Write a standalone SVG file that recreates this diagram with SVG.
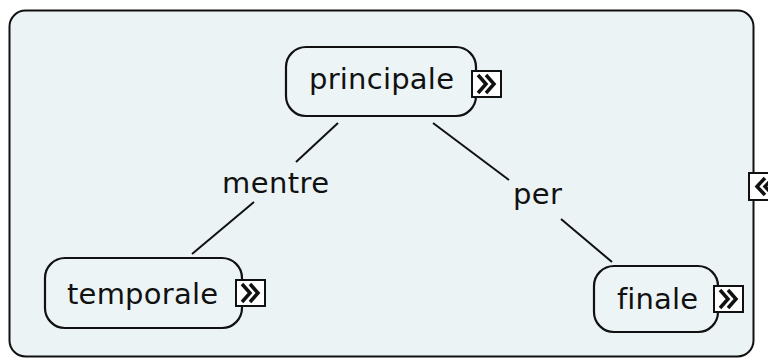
<svg xmlns="http://www.w3.org/2000/svg" width="768" height="360" viewBox="0 0 768 360">
<style>
.node{fill:#edf4f6;stroke:#111;stroke-width:2.2}
.lbl{font-family:"DejaVu Sans",Verdana,sans-serif;font-size:29px;fill:#111;font-variant-ligatures:none}
.conn{stroke:#111;stroke-width:2;fill:none}
.ico{fill:#fff;stroke:#111;stroke-width:2}
.chev{fill:none;stroke:#111;stroke-width:3.5}
</style>
<defs>
<g id="more">
<rect class="ico" x="0" y="0" width="29" height="26"/>
<polyline class="chev" points="6,4 14,13 6,22"/>
<polyline class="chev" points="14,4 22,13 14,22"/>
</g>
</defs>
<rect width="768" height="360" fill="#fff"/>
<rect id="frame" x="9.5" y="10.5" width="744" height="346" rx="16" fill="#ecf3f5" stroke="#111" stroke-width="2"/>
<g id="side-icon">
<rect class="ico" x="749" y="173" width="26" height="27"/>
<polyline class="chev" points="765,178 757,186.5 765,195"/>
<polyline class="chev" points="773,178 765,186.5 773,195"/>
</g>
<g id="connectors">
<line class="conn" x1="338" y1="123" x2="296" y2="162"/>
<line class="conn" x1="254" y1="202" x2="192" y2="254"/>
<line class="conn" x1="433" y1="123" x2="509" y2="180"/>
<line class="conn" x1="561" y1="219" x2="612" y2="262"/>
<text class="lbl" x="222" y="193" textLength="107" lengthAdjust="spacing">mentre</text>
<text class="lbl" x="513" y="204" textLength="49" lengthAdjust="spacing">per</text>
</g>
<g id="principale">
<rect class="node" x="286" y="47" width="190" height="69" rx="20"/>
<text class="lbl" x="309" y="89" textLength="145" lengthAdjust="spacing">principale</text>
<use href="#more" x="472" y="71"/>
</g>
<g id="temporale">
<rect class="node" x="45" y="258" width="197" height="70" rx="20"/>
<text class="lbl" x="67" y="304" textLength="151" lengthAdjust="spacing">temporale</text>
<use href="#more" x="236" y="280"/>
</g>
<g id="finale">
<rect class="node" x="594" y="266" width="124" height="66" rx="20"/>
<text class="lbl" x="617" y="309" textLength="81" lengthAdjust="spacing">finale</text>
<use href="#more" x="714" y="286"/>
</g>
</svg>
